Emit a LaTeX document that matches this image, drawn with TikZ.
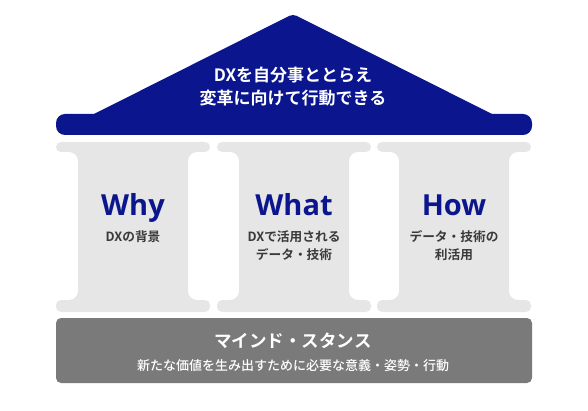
\documentclass[tikz,border=0pt]{standalone}
\usepackage{fontspec}
\setmainfont{Noto Sans CJK JP}[BoldFont={Noto Sans CJK JP Bold}]
\newfontfamily\latinfont{Open Sans}
\newfontfamily\jpmedium{Noto Sans CJK JP Medium}
\newfontfamily\jpbold{Noto Sans CJK JP Bold}
\usetikzlibrary{positioning}
\definecolor{RoofNavy}{HTML}{0B168E}
\definecolor{PillarGray}{HTML}{E6E6E6}
\definecolor{BaseGray}{HTML}{7A7A7A}
\definecolor{SubGray}{HTML}{3A3A3A}

% one pillar, #1 = left edge
\newcommand{\pillar}[1]{%
  \fill[PillarGray,rounded corners=5pt] (#1,142) -- ++(154,0) -- ++(0,10)
    [rounded corners=9pt] -- ++(-22,0) -- ++(0,148)
    [rounded corners=5pt] -- ++(22,0) -- ++(0,12) -- ++(-154,0) -- ++(0,-12)
    [rounded corners=9pt] -- ++(22,0) -- ++(0,-148)
    [rounded corners=5pt] -- ++(-22,0) -- cycle;}

\begin{document}
\begin{tikzpicture}[x=1pt,y=-1pt]
  \tikzstyle{roof}=[text=white,align=center,
    font=\fontsize{17}{23}\selectfont\jpbold]
  \tikzstyle{big}=[text=RoofNavy,anchor=base,
    font=\fontsize{29}{30}\selectfont\latinfont\bfseries]
  \tikzstyle{sub}=[text=SubGray,align=center,anchor=north,
    font=\fontsize{12.7}{18}\selectfont\jpbold]
  \useasboundingbox (0,0) rectangle (588,411);
  % roof
  \fill[RoofNavy,rounded corners=4pt] (90,116) -- (293,14) -- (496,116) -- cycle;
  \fill[RoofNavy,rounded corners=9pt] (56,114) rectangle (532,135);
  \node[roof] (motto) at (293,87) {DXを自分事ととらえ\\変革に向けて行動できる};
  % pillars
  \pillar{56}
  \pillar{217}
  \pillar{377}
  \node[big] (why) at (133,216) {Why};
  \node[sub] (whytxt) at (133,227) {DXの背景};
  \node[big] (what) at (294,216) {What};
  \node[sub] (whattxt) at (294,227) {DXで活用される\\データ・技術};
  \node[big] (how) at (454,216) {How};
  \node[sub] (howtxt) at (454,227) {データ・技術の\\利活用};
  % base
  \fill[BaseGray,rounded corners=5pt] (56,318) rectangle (532,383);
  \node[text=white,font=\fontsize{17.5}{18}\selectfont\jpbold] (mind) at (293,341) {マインド・スタンス};
  \node[text=white,font=\fontsize{13}{14}\selectfont\jpmedium,below=4pt of mind] (stance)
    {新たな価値を生み出すために必要な意義・姿勢・行動};
\end{tikzpicture}
\end{document}
